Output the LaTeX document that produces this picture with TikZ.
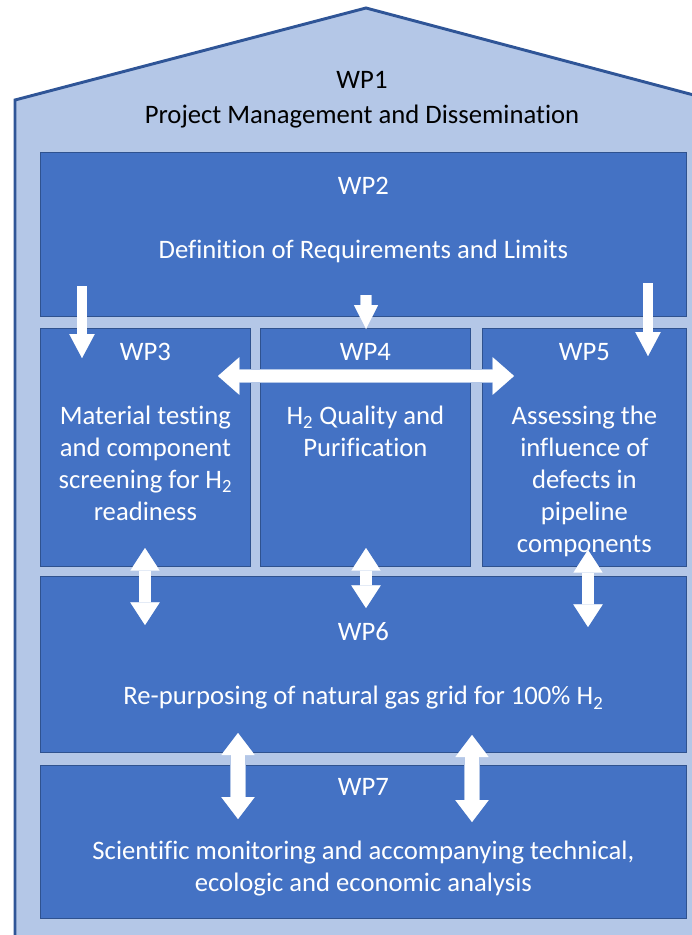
\documentclass[tikz,border=0pt]{standalone}
\usepackage{fontspec}
\setmainfont{Carlito}[Ligatures=CommonOff]
\usetikzlibrary{arrows.meta,positioning}

\definecolor{lightblue}{HTML}{B4C7E7}
\definecolor{boxblue}{HTML}{4472C4}
\definecolor{boxline}{HTML}{2F528F}
\definecolor{roofline}{HTML}{2F5597}

\tikzset{
  wpbox/.style={draw=boxline, line width=0.6pt, fill=boxblue, inner sep=0pt, anchor=north west},
  wptext/.style={text=white, align=center, inner sep=0pt, font=\fontsize{20}{24}\selectfont},
  % one-way and two-way block arrows: shaft, head width, head length
  flow/.style n args={3}{white, line width=#1, -{Triangle[width=#2,length=#3,line width'=0pt]},
    preaction={draw=lightblue, line width=#1+1.2pt, -{Triangle[width=#2,length=#3,line width'=1.2pt]}}},
  flows/.style n args={3}{white, line width=#1, {Triangle[width=#2,length=#3,line width'=0pt]}-{Triangle[width=#2,length=#3,line width'=0pt]},
    preaction={draw=lightblue, line width=#1+1.2pt, {Triangle[width=#2,length=#3,line width'=1.2pt]}-{Triangle[width=#2,length=#3,line width'=1.2pt]}}}
}

\begin{document}
\begin{tikzpicture}[x=0.75pt, y=-0.75pt]
  \useasboundingbox (0,0) rectangle (692,935);
  \clip (0,0) rectangle (692,935);

  % house = WP1
  \draw [roofline, line width=2.2pt, fill=lightblue] (15,945) -- (15,100) -- (366,8) -- (720,102) -- (720,945) -- cycle;
  \node [wptext, text=black, anchor=north] (t1) at (362,71) {WP1\\[2pt]Project Management and Dissemination};

  % work packages
  \node [wpbox, minimum width=484.5pt, minimum height=123pt] (wp2) at (40,152) {};
  \node [wpbox, minimum width=157.5pt, minimum height=178.5pt] (wp3) at (40,328) {};
  \node [wpbox, minimum width=157.5pt, minimum height=178.5pt] (wp4) at (260,328) {};
  \node [wpbox, minimum width=153pt, minimum height=178.5pt] (wp5) at (482,328) {};
  \node [wpbox, minimum width=484.5pt, minimum height=132pt] (wp6) at (40,576) {};
  \node [wpbox, minimum width=484.5pt, minimum height=114.75pt] (wp7) at (40,765) {};

  \node [wptext, below=18.75pt of wp2.north] (t2) {WP2\\[24pt]Definition of Requirements and Limits};
  \node [wptext, below=11.25pt of wp3.north] (t3) {WP3\\[24pt]Material testing\\and component\\screening for H\textsubscript{2}\\readiness};
  \node [wptext, below=11.25pt of wp4.north] (t4) {WP4\\[24pt]H\textsubscript{2} Quality and\\Purification};
  \node [wptext, below=11.25pt of wp5.north] (t5) {WP5\\[24pt]Assessing the\\influence of\\defects in\\pipeline\\components};
  \node [wptext, below=35pt of wp6.north] (t6) {WP6\\[24pt]Re-purposing of natural gas grid for 100\% H\textsubscript{2}};
  \node [wptext, below=9.75pt of wp7.north] (t7) {WP7\\[24pt]Scientific monitoring and accompanying technical,\\ecologic and economic analysis};

  % arrow ends
  \coordinate (a23s) at (82,286);  \coordinate (a23e) at (82,358);
  \coordinate (a24s) at (366,295); \coordinate (a24e) at (366,329);
  \coordinate (a25s) at (648,283); \coordinate (a25e) at (648,356);
  \coordinate (a35s) at (218,376); \coordinate (a35e) at (514,376);
  \coordinate (a36s) at (145,548); \coordinate (a36e) at (145,625);
  \coordinate (a46s) at (366,548); \coordinate (a46e) at (366,608);
  \coordinate (a56s) at (588,550); \coordinate (a56e) at (588,627);
  \coordinate (a67s) at (238,733); \coordinate (a67e) at (238,819);
  \coordinate (b67s) at (472,735); \coordinate (b67e) at (472,822);

  \draw [flow={7pt}{19pt}{18pt}] (a23s) -- (a23e);
  \draw [flow={7.5pt}{18pt}{18pt}] (a24s) -- (a24e);
  \draw [flow={7pt}{19pt}{18pt}] (a25s) -- (a25e);
  \draw [flows={9pt}{28pt}{16pt}] (a35s) -- (a35e);
  \draw [flows={8.5pt}{22pt}{17pt}] (a36s) -- (a36e);
  \draw [flows={8.5pt}{22pt}{17pt}] (a46s) -- (a46e);
  \draw [flows={8.5pt}{22pt}{17pt}] (a56s) -- (a56e);
  \draw [flows={11pt}{25pt}{16.5pt}] (a67s) -- (a67e);
  \draw [flows={11pt}{25pt}{16.5pt}] (b67s) -- (b67e);
\end{tikzpicture}
\end{document}
